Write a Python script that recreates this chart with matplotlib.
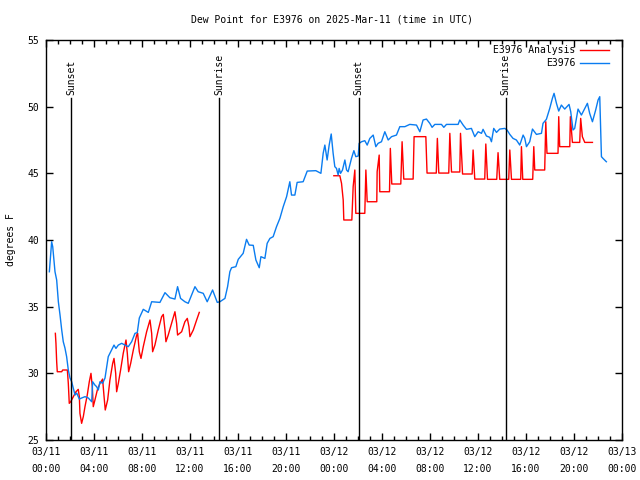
from matplotlib import pyplot as plt
import numpy as np

# hours since 2025-03-11 00:00 UTC
obs_hours = [0.28, 0.47, 0.56, 0.75, 0.89, 1.03, 1.17, 1.31, 1.44, 1.58, 1.72, 1.86, 2.0, 2.14, 2.28,
             2.42, 2.56, 2.78, 2.97, 3.25, 3.53, 3.81, 3.89, 4.08, 4.22, 4.36, 4.5, 4.72, 4.92, 5.06,
             5.19, 5.33, 5.47, 5.67, 5.83, 6.03, 6.31, 6.58, 6.86, 7.14, 7.42, 7.61, 7.78, 8.11, 8.53,
             8.81, 9.5, 9.92, 10.33, 10.75, 10.97, 11.22, 11.58, 11.86, 12.42, 12.69, 13.11, 13.44,
             13.89, 14.28, 14.5, 14.92, 15.14, 15.33, 15.47, 15.83, 16.03, 16.44, 16.72, 16.94, 17.28,
             17.5, 17.78, 17.92, 18.25, 18.44, 18.67, 18.94, 19.22, 19.5, 19.78, 20.06, 20.33, 20.47,
             20.75, 20.94, 21.44, 21.78, 22.5, 22.92, 23.11, 23.25, 23.44, 23.61, 23.78, 23.94, 24.08,
             24.22, 24.36, 24.44, 24.56, 24.72, 24.92, 25.06, 25.19, 25.47, 25.67, 25.83, 26.03, 26.11,
             26.31, 26.58, 26.78, 27.0, 27.28, 27.5, 27.69, 27.97, 28.25, 28.53, 28.81, 29.22, 29.5,
             29.92, 30.33, 30.89, 31.17, 31.44, 31.72, 32.0, 32.19, 32.42, 32.97, 33.17, 33.39, 34.36,
             34.5, 34.78, 35.06, 35.47, 35.75, 36.03, 36.31, 36.44, 36.72, 37.0, 37.14, 37.33, 37.56,
             37.83, 38.25, 38.44, 38.67, 38.94, 39.22, 39.5, 39.78, 39.92, 40.06, 40.33, 40.56, 40.89,
             41.31, 41.44, 41.72, 42.0, 42.22, 42.36, 42.56, 42.75, 42.97, 43.25, 43.61, 43.75, 43.94,
             44.08, 44.36, 44.64, 44.92, 45.14, 45.33, 45.56, 45.83, 46.03, 46.17, 46.31, 46.44, 46.72]
obs_dewpt = [37.62, 39.87, 39.5, 37.62, 37.0, 35.37, 34.37, 33.25, 32.37, 31.9, 31.25, 30.25, 29.65,
             29.37, 28.88, 28.37, 28.52, 28.07, 28.15, 28.25, 28.15, 27.87, 29.37, 29.12, 29.0, 28.75,
             29.37, 29.25, 29.65, 30.5, 31.25, 31.5, 31.75, 32.12, 31.87, 32.12, 32.25, 32.12, 32.0,
             32.37, 33.0, 33.05, 34.15, 34.8, 34.57, 35.37, 35.32, 36.05, 35.67, 35.57, 36.5, 35.62,
             35.37, 35.25, 36.5, 36.12, 36.0, 35.37, 36.25, 35.32, 35.37, 35.62, 36.5, 37.62, 37.92,
             38.0, 38.55, 39.0, 40.05, 39.62, 39.6, 38.5, 37.92, 38.75, 38.62, 39.75, 40.12, 40.25,
             41.0, 41.62, 42.5, 43.25, 44.37, 43.37, 43.37, 44.32, 44.37, 45.17, 45.2, 45.0, 46.5,
             47.12, 46.0, 47.12, 47.95, 46.5, 45.5, 45.37, 44.87, 45.37, 45.0, 45.25, 46.0, 45.25,
             45.12, 46.12, 46.7, 46.25, 46.3, 47.25, 47.37, 47.45, 47.12, 47.62, 47.87, 47.0, 47.25,
             47.37, 48.12, 47.5, 47.75, 47.87, 48.5, 48.5, 48.67, 48.62, 48.12, 49.0, 49.07, 48.75,
             48.45, 48.67, 48.67, 48.45, 48.67, 48.67, 49.0, 48.62, 48.3, 48.37, 47.75, 48.12, 48.0,
             48.3, 47.8, 47.7, 47.37, 48.37, 48.07, 48.32, 48.37, 48.25, 47.92, 47.62, 47.5, 47.12,
             47.87, 47.62, 47.0, 47.37, 48.32, 47.92, 48.0, 48.75, 49.05, 49.87, 50.62, 51.0, 50.25,
             49.67, 50.12, 49.82, 50.17, 49.62, 48.25, 48.37, 49.82, 49.37, 49.87, 50.25, 49.5, 48.87,
             49.75, 50.5, 50.75, 46.25, 46.12, 45.87]

ana1_hours = [0.78, 0.83, 0.89, 0.94, 1.31, 1.39, 1.78, 1.86, 1.94, 2.06, 2.28, 2.5, 2.69, 2.78, 2.83,
              2.97, 3.11, 3.25, 3.44, 3.61, 3.75, 3.86, 3.94, 4.08, 4.28, 4.5, 4.72, 4.83, 4.94, 5.14,
              5.33, 5.56, 5.67, 5.81, 5.89, 6.03, 6.22, 6.44, 6.67, 6.78, 6.89, 7.06, 7.28, 7.56, 7.64,
              7.78, 7.92, 8.11, 8.39, 8.67, 8.81, 8.89, 9.08, 9.36, 9.64, 9.78, 9.92, 10.0, 10.19,
              10.47, 10.75, 10.89, 10.97, 11.31, 11.58, 11.78, 11.92, 12.0, 12.28, 12.56, 12.78]
ana1_dewpt = [33.0, 32.25, 30.87, 30.12, 30.12, 30.25, 30.25, 29.25, 27.75, 27.87, 28.25, 28.62, 28.8,
              28.25, 27.0, 26.25, 26.75, 27.5, 28.37, 29.37, 30.0, 29.0, 27.5, 28.0, 28.75, 29.25,
              29.57, 28.37, 27.25, 28.0, 29.5, 30.75, 31.12, 30.0, 28.62, 29.25, 30.25, 31.5, 32.5,
              31.5, 30.12, 30.75, 31.75, 32.87, 33.0, 31.62, 31.12, 32.0, 33.12, 34.0, 33.0, 31.62,
              32.12, 33.25, 34.25, 34.42, 33.25, 32.37, 32.87, 33.75, 34.62, 33.75, 32.87, 33.12,
              33.87, 34.12, 33.5, 32.75, 33.25, 34.0, 34.57]

ana2_hours = [24.0, 24.5, 24.64, 24.78, 24.83, 25.5, 25.61, 25.75, 25.83, 26.58, 26.67, 26.78, 27.58,
              27.61, 27.78, 27.83, 28.64, 28.71, 28.83, 29.58, 29.69, 29.83, 30.61, 30.69, 31.67,
              31.77, 32.54, 32.63, 32.75, 33.58, 33.67, 33.81, 34.5, 34.56, 34.73, 35.53, 35.61, 35.75,
              36.58, 36.67, 36.81, 37.58, 37.69, 37.83, 38.58, 38.67, 38.81, 39.58, 39.64, 39.75, 40.58,
              40.67, 40.75, 41.58, 41.67, 41.77, 42.69, 42.75, 42.83, 43.67, 43.72, 43.89, 44.5, 44.58,
              44.72, 44.92, 45.56]
ana2_dewpt = [44.82, 44.82, 44.25, 43.0, 41.5, 41.5, 44.0, 45.25, 42.0, 42.0, 45.25, 42.87, 42.87,
              45.12, 46.37, 43.62, 43.62, 46.87, 44.2, 44.2, 47.37, 44.57, 44.57, 47.75, 47.75, 45.02,
              45.02, 47.62, 45.02, 45.02, 48.0, 45.1, 45.1, 48.0, 44.95, 44.95, 46.75, 44.57, 44.57,
              47.2, 44.55, 44.55, 46.55, 44.55, 44.55, 46.75, 44.55, 44.55, 47.0, 44.55, 44.55, 47.0,
              45.25, 45.25, 48.87, 46.5, 46.5, 49.25, 47.0, 47.0, 49.25, 47.32, 47.32, 49.12, 47.75,
              47.32, 47.32]

sun_hours = [2.08, 14.42, 26.08, 38.33]
sun_labels = ['Sunset', 'Sunrise', 'Sunset', 'Sunrise']

tick_hours = np.arange(0, 49, 4)
tick_labels = ['03/11\n00:00', '03/11\n04:00', '03/11\n08:00', '03/11\n12:00', '03/11\n16:00',
               '03/11\n20:00', '03/12\n00:00', '03/12\n04:00', '03/12\n08:00', '03/12\n12:00',
               '03/12\n16:00', '03/12\n20:00', '03/13\n00:00']

plt.rcParams['font.family'] = 'DejaVu Sans Mono'
plt.rcParams['font.size'] = 7

red = '#ff0000'
blue = '#0a7cf0'

fig = plt.figure(figsize=(6.4, 4.8), dpi=100)
ax = fig.add_axes([46/640, 40/480, 575.7/640, 400/480])

ax.plot(ana1_hours, ana1_dewpt, color=red, lw=1)
ax.plot(ana2_hours, ana2_dewpt, color=red, lw=1)
ax.plot(obs_hours, obs_dewpt, color=blue, lw=1)

for h, lab in zip(sun_hours, sun_labels):
    ax.plot([h, h], [25, 50.65], color='black', lw=1)
    ax.text(h, 50.9, lab, rotation=90, ha='center', va='bottom')

ax.set_xlim(0, 48)
ax.set_ylim(25, 55)
ax.set_xticks(tick_hours)
ax.set_xticklabels(tick_labels, linespacing=1.9)
ax.set_xticks(np.arange(0, 49, 1), minor=True)
ax.set_yticks(np.arange(25, 56, 5))
ax.tick_params(which='both', direction='in', top=True, right=True, width=1)
ax.tick_params(which='major', length=5, pad=5)
ax.tick_params(which='minor', length=3)
ax.tick_params(axis='y', which='minor', length=0)
for s in ax.spines.values():
    s.set_linewidth(1)

ax.set_ylabel('degrees F', labelpad=8)
fig.text(332/640, 1 - 19/480, 'Dew Point for E3976 on 2025-Mar-11 (time in UTC)', ha='center', va='center')

# gnuplot style key, text right of sample
key = [('E3976 Analysis', red), ('E3976', blue)]
for i, (lab, c) in enumerate(key):
    yk = 0.976 - i * 0.033
    ax.text(0.92, yk, lab, transform=ax.transAxes, ha='right', va='center')
    ax.plot([0.928, 0.978], [yk, yk], color=c, lw=1, transform=ax.transAxes)

fig.savefig('out.png', dpi=100)
